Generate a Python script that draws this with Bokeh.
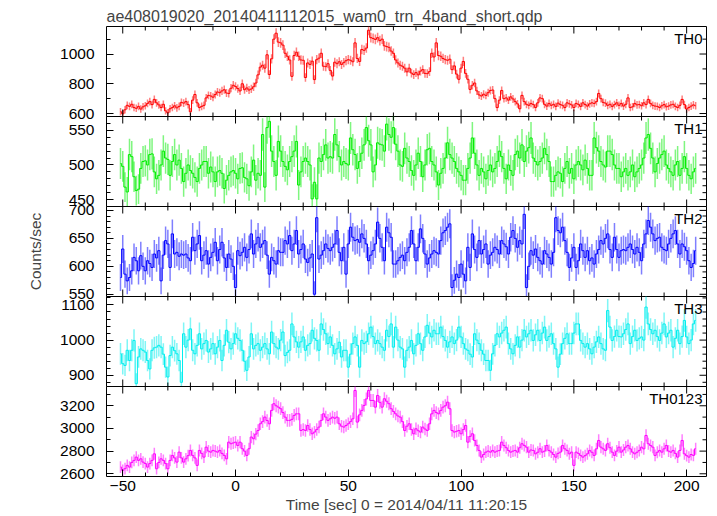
import numpy as np
from bokeh.plotting import figure
from bokeh.layouts import column
from bokeh.models import Range1d, SingleIntervalTicker, Label, ColumnDataSource
from bokeh.embed import file_html
from bokeh.resources import INLINE

TITLE = "ae408019020_20140411112015_wam0_trn_4band_short.qdp"
X_LABEL = "Time [sec] 0 = 2014/04/11 11:20:15"
Y_LABEL = "Counts/sec"
BAND_NAMES = ["TH0", "TH1", "TH2", "TH3", "TH0123"]
T_FIRST = -51      # centre of the first 1-s bin
BIN_SEC = 1.0

TH0 = [612, 598, 625, 655, 648, 662, 640, 635, 648, 630, 645, 652, 668, 680, 660, 695,
       672, 658, 640, 662, 618, 605, 632, 640, 652, 638, 648, 675, 670, 680, 660, 612,
       690, 728, 672, 640, 648, 655, 705, 722, 718, 710, 728, 745, 740, 752, 760, 738,
       735, 770, 790, 782, 768, 752, 800, 760, 772, 758, 765, 780, 805, 860, 912, 925,
       905, 995, 862, 968, 1100, 1140, 1080, 1075, 1060, 1005, 985, 960, 850, 990, 1012, 985,
       960, 958, 842, 940, 930, 952, 828, 962, 972, 1005, 918, 915, 935, 890, 852, 945,
       935, 948, 930, 942, 955, 962, 958, 948, 1075, 970, 950, 1030, 1025, 1040, 1160, 1110,
       1105, 1098, 1110, 1090, 1100, 1055, 1050, 1045, 1020, 1005, 960, 940, 925, 918, 905, 880,
       905, 872, 862, 875, 860, 885, 895, 870, 868, 882, 1005, 980, 1075, 990, 985, 970,
       962, 958, 965, 895, 920, 865, 830, 905, 950, 870, 830, 762, 790, 805, 752, 725,
       718, 730, 722, 740, 755, 758, 700, 640, 690, 755, 700, 705, 690, 712, 698, 680,
       665, 632, 722, 680, 662, 655, 668, 660, 640, 672, 705, 700, 662, 650, 668, 655,
       662, 648, 670, 660, 655, 640, 672, 665, 658, 640, 668, 662, 648, 672, 660, 650,
       665, 672, 668, 680, 735, 700, 675, 670, 655, 662, 648, 660, 672, 655, 668, 650,
       662, 705, 640, 645, 668, 658, 660, 652, 672, 660, 695, 668, 655, 650, 648, 640,
       652, 660, 645, 650, 658, 662, 648, 640, 655, 695, 660, 630, 640, 650, 658, 652]

TH1 = [502, 498, 468, 461, 515, 512, 483, 463, 465, 495, 505, 506, 500, 515, 516, 490,
       480, 485, 500, 520, 510, 508, 485, 505, 515, 500, 507, 495, 476, 488, 500, 492,
       488, 482, 476, 495, 500, 505, 505, 488, 497, 490, 476, 490, 492, 488, 466, 478,
       485, 490, 492, 488, 480, 495, 496, 482, 480, 470, 490, 507, 478, 488, 485, 544,
       468, 554, 563, 520, 505, 485, 534, 520, 505, 498, 493, 505, 512, 520, 534, 471,
       490, 505, 510, 505, 500, 451, 475, 451, 510, 505, 515, 529, 510, 512, 510, 544,
       529, 512, 500, 505, 502, 500, 539, 522, 515, 495, 505, 517, 529, 554, 535, 529,
       490, 500, 532, 530, 529, 520, 559, 544, 540, 554, 530, 520, 500, 498, 524, 510,
       505, 492, 485, 500, 517, 505, 483, 500, 522, 524, 505, 500, 490, 471, 488, 495,
       510, 532, 515, 510, 505, 495, 490, 485, 478, 478, 495, 510, 539, 517, 500, 485,
       495, 490, 480, 492, 500, 490, 495, 505, 520, 512, 495, 480, 500, 492, 485, 515,
       520, 510, 529, 505, 520, 525, 539, 510, 505, 500, 505, 510, 524, 515, 505, 476,
       476, 485, 490, 488, 476, 495, 505, 488, 495, 480, 500, 505, 500, 493, 507, 495,
       485, 485, 539, 525, 520, 505, 500, 497, 520, 520, 515, 500, 495, 495, 483, 490,
       495, 485, 490, 500, 483, 490, 495, 500, 510, 539, 544, 524, 510, 490, 502, 510,
       515, 520, 500, 495, 490, 485, 500, 505, 485, 495, 512, 495, 485, 480, 490, 495]

TH2 = [580, 631, 586, 574, 580, 592, 616, 610, 592, 619, 600, 592, 610, 605, 598, 622,
       615, 628, 574, 620, 646, 640, 598, 658, 622, 625, 618, 622, 620, 622, 615, 610,
       652, 628, 640, 655, 610, 620, 628, 604, 616, 625, 643, 610, 630, 643, 615, 598,
       622, 613, 600, 562, 628, 619, 625, 634, 616, 630, 658, 622, 640, 652, 634, 640,
       646, 620, 586, 616, 610, 604, 628, 625, 625, 646, 640, 655, 628, 640, 664, 622,
       630, 640, 613, 607, 615, 622, 550, 687, 613, 620, 628, 640, 632, 628, 634, 640,
       664, 625, 610, 634, 586, 640, 670, 652, 646, 648, 643, 658, 650, 640, 610, 620,
       628, 640, 679, 650, 634, 610, 670, 660, 652, 604, 604, 610, 616, 620, 610, 625,
       634, 664, 640, 610, 634, 667, 650, 622, 604, 615, 622, 628, 625, 622, 646, 660,
       664, 670, 676, 562, 575, 586, 580, 604, 586, 574, 634, 598, 658, 630, 616, 646,
       622, 630, 640, 604, 620, 625, 634, 630, 622, 646, 640, 635, 622, 652, 664, 650,
       634, 646, 640, 693, 562, 600, 628, 620, 631, 616, 610, 604, 628, 622, 616, 604,
       625, 687, 664, 660, 670, 646, 625, 598, 615, 634, 598, 610, 640, 628, 616, 628,
       610, 615, 604, 622, 630, 646, 640, 650, 658, 630, 616, 652, 630, 616, 628, 630,
       628, 634, 640, 630, 622, 634, 625, 610, 640, 658, 682, 670, 658, 646, 650, 652,
       634, 630, 628, 640, 650, 658, 664, 640, 622, 640, 635, 628, 610, 598, 605, 628]

TH3 = [961, 933, 928, 971, 942, 971, 999, 876, 952, 975, 971, 966, 942, 918, 971, 978,
       980, 985, 980, 960, 923, 895, 956, 980, 970, 961, 942, 880, 1018, 980, 1000, 1032,
       971, 961, 985, 1018, 975, 990, 999, 966, 975, 990, 961, 980, 999, 942, 985, 1028,
       994, 975, 990, 1018, 1005, 999, 971, 940, 914, 952, 1018, 975, 985, 990, 971, 980,
       990, 975, 961, 1023, 990, 980, 975, 1000, 1023, 956, 965, 971, 1046, 1009, 995, 980,
       995, 1009, 971, 985, 990, 1028, 1005, 999, 971, 1046, 1030, 1018, 990, 1009, 985, 961,
       975, 994, 952, 971, 971, 923, 960, 990, 1009, 985, 923, 999, 990, 995, 1018, 1037,
       1010, 990, 999, 990, 980, 971, 1028, 1010, 1046, 980, 1037, 1000, 980, 975, 923, 971,
       980, 999, 961, 985, 1018, 990, 971, 1009, 1042, 1020, 1009, 1028, 1018, 1018, 1037, 1010,
       999, 980, 995, 1009, 990, 1000, 1037, 1009, 990, 975, 971, 960, 952, 1018, 1000, 990,
       971, 960, 942, 942, 914, 961, 985, 1018, 1009, 1020, 1028, 1037, 990, 975, 961, 985,
       1009, 980, 1000, 1028, 1009, 1018, 1028, 999, 1015, 1028, 999, 1020, 1037, 999, 1010, 1018,
       990, 975, 923, 960, 990, 1005, 1018, 990, 990, 1020, 1046, 1046, 999, 990, 980, 990,
       975, 961, 980, 995, 1009, 990, 975, 971, 1084, 1037, 999, 1010, 1028, 1010, 1009, 1018,
       1030, 1046, 990, 1010, 1028, 999, 1005, 1009, 1000, 1094, 1046, 1030, 1018, 1028, 1010, 999,
       1020, 1046, 1009, 1020, 1028, 980, 1005, 1028, 990, 1010, 1056, 1009, 990, 1000, 1046, 1056]

TH0123 = [2659, 2630, 2645, 2674, 2659, 2700, 2718, 2747, 2718, 2732, 2703, 2690, 2659, 2690, 2718, 2776,
          2644, 2700, 2732, 2718, 2690, 2644, 2718, 2762, 2740, 2703, 2791, 2740, 2703, 2732, 2760, 2806,
          2762, 2740, 2674, 2806, 2780, 2747, 2835, 2800, 2791, 2806, 2800, 2791, 2806, 2780, 2762, 2732,
          2879, 2865, 2872, 2879, 2850, 2879, 2821, 2800, 2762, 2821, 2924, 2909, 2950, 2982, 3041, 3060,
          3100, 3070, 3041, 3159, 3218, 3200, 3188, 3174, 3140, 3100, 3071, 3071, 3080, 3115, 3129, 3129,
          2982, 2990, 2982, 3026, 2990, 2953, 2968, 2990, 3012, 3071, 3129, 3100, 3071, 3085, 3100, 3090,
          3100, 3041, 3020, 3012, 3026, 3041, 3060, 3085, 3335, 3056, 3120, 3159, 3203, 3260, 3335, 3247,
          3247, 3188, 3291, 3230, 3188, 3262, 3240, 3218, 3174, 3150, 3129, 3110, 3100, 3060, 2982, 3020,
          3041, 2990, 2953, 2997, 2980, 2968, 3012, 2995, 2982, 3041, 3129, 3159, 3140, 3129, 3159, 3188,
          3200, 3232, 3174, 2982, 2968, 2975, 2982, 2953, 2990, 3026, 2879, 2930, 2953, 2894, 2850, 2806,
          2747, 2770, 2791, 2800, 2791, 2806, 2791, 2800, 2806, 2879, 2850, 2830, 2806, 2791, 2800, 2806,
          2791, 2830, 2865, 2850, 2835, 2791, 2810, 2806, 2776, 2790, 2821, 2791, 2800, 2850, 2806, 2791,
          2770, 2747, 2780, 2791, 2850, 2820, 2806, 2776, 2791, 2674, 2791, 2780, 2762, 2747, 2760, 2776,
          2806, 2790, 2762, 2820, 2894, 2835, 2820, 2806, 2865, 2830, 2791, 2762, 2800, 2835, 2791, 2810,
          2835, 2850, 2820, 2791, 2776, 2790, 2806, 2835, 2820, 2938, 2865, 2850, 2835, 2762, 2790, 2806,
          2791, 2820, 2850, 2800, 2791, 2806, 2780, 2747, 2806, 2894, 2776, 2760, 2747, 2770, 2762, 2821]

SERIES = [TH0, TH1, TH2, TH3, TH0123]

# ---- styling / layout -------------------------------------------------
FONT = "Liberation Sans"
FS_TITLE = "16px"
FS = "15.5px"
FS_BAND = "15px"
COLORS = ["#ff0000", "#00ee00", "#0000ff", "#00eeee", "#ff00ff"]
Y_RANGES = [(580, 1185), (440, 570), (546, 707), (868, 1124), (2576, 3370)]
Y_TICKS = [(200, 2), (50, 5), (50, 5), (100, 5), (200, 2)]
X_RANGE = (-57.2, 208.8)
X_MAJOR, X_MINOR_N = 50, 5
FRAME_H = [90, 90, 90, 90, 90]
TOP_H = 26
BOTTOM_H = 46
PAD = 10          # spare border so edge tick labels are not clipped
LEFT = 106
FRAME_W = 600
WIDTH = 708
TICK_MAJ = 7
TICK_MIN = 4

xr = Range1d(*X_RANGE)


def tick_positions(lo, hi, step):
    start = np.ceil(lo / step) * step
    return np.arange(start, hi + 1e-9, step)


def major_minor(lo, hi, interval, nminor):
    maj = tick_positions(lo, hi, interval)
    mstep = interval / nminor
    allm = tick_positions(lo, hi, mstep)
    minr = np.array([m for m in allm if abs(m / interval - round(m / interval)) > 1e-6])
    return maj, minr


def style_axis(ax, interval, nminor):
    ax.ticker = SingleIntervalTicker(interval=interval, num_minor_ticks=nminor)
    ax.axis_line_color = None
    ax.major_tick_in = TICK_MAJ
    ax.major_tick_out = 0
    ax.minor_tick_in = TICK_MIN
    ax.minor_tick_out = 0
    ax.major_tick_line_color = "black"
    ax.minor_tick_line_color = "black"
    ax.major_label_text_font = FONT
    ax.major_label_text_font_size = FS
    ax.major_label_text_color = "black"


xmaj, xmin = major_minor(X_RANGE[0], X_RANGE[1], X_MAJOR, X_MINOR_N)

figs = []
n_panels = len(SERIES)
for i, (name, vals, col) in enumerate(zip(BAND_NAMES, SERIES, COLORS)):
    vals = np.asarray(vals, dtype=float)
    t = T_FIRST + BIN_SEC * np.arange(len(vals))
    err = np.sqrt(vals * BIN_SEC) / BIN_SEC
    src = ColumnDataSource(dict(t=t, v=vals, lo=vals - err, hi=vals + err))

    first = i == 0
    last = i == n_panels - 1
    top_b = TOP_H if first else PAD
    bot_b = BOTTOM_H if last else PAD
    h = FRAME_H[i] + top_b + bot_b
    ylo, yhi = Y_RANGES[i]
    p = figure(width=WIDTH, height=h, x_range=xr, y_range=Range1d(ylo, yhi),
               output_backend="svg", toolbar_location=None,
               x_axis_location="below" if last else None,
               min_border_left=LEFT, min_border_right=WIDTH - LEFT - FRAME_W,
               min_border_top=top_b, min_border_bottom=bot_b)
    if not first:
        p.margin = (-2 * PAD, 0, 0, 0)
    p.xgrid.visible = False
    p.ygrid.visible = False
    p.outline_line_color = "black"
    p.outline_line_width = 1
    p.background_fill_color = "white"
    p.border_fill_color = None

    p.segment(x0="t", y0="lo", x1="t", y1="hi", source=src,
              line_color=col, line_alpha=0.5, line_width=1.5)
    p.step(x="t", y="v", source=src, mode="center", line_color=col, line_width=1)

    # inward ticks along the top, right (and bottom for inner panels)
    yint, ynm = Y_TICKS[i]
    ymaj, ymin = major_minor(ylo, yhi, yint, ynm)
    for xs, L in ((xmaj, TICK_MAJ), (xmin, TICK_MIN)):
        p.ray(x=xs, y=[yhi] * len(xs), length=L, length_units="screen",
              angle=-np.pi / 2, line_color="black", line_width=1)
        if not last:
            p.ray(x=xs, y=[ylo] * len(xs), length=L, length_units="screen",
                  angle=np.pi / 2, line_color="black", line_width=1)
    for ys, L in ((ymaj, TICK_MAJ), (ymin, TICK_MIN)):
        p.ray(x=[X_RANGE[1]] * len(ys), y=ys, length=L, length_units="screen",
              angle=np.pi, line_color="black", line_width=1)

    left_ax = p.left[0]
    style_axis(left_ax, yint, ynm)
    left_ax.major_label_standoff = 12
    if last:
        bottom_ax = p.below[0]
        style_axis(bottom_ax, X_MAJOR, X_MINOR_N)
        bottom_ax.major_label_standoff = 4
        bottom_ax.major_label_overrides = {-50: "\u221250"}
        bottom_ax.axis_label = X_LABEL
        bottom_ax.axis_label_text_font = FONT
        bottom_ax.axis_label_text_font_size = FS
        bottom_ax.axis_label_text_font_style = "normal"
        bottom_ax.axis_label_standoff = 2

    if i == 2:
        left_ax.axis_label = Y_LABEL
        left_ax.axis_label_text_font = FONT
        left_ax.axis_label_text_font_size = FS
        left_ax.axis_label_text_font_style = "normal"
        left_ax.axis_label_standoff = 22

    p.add_layout(Label(x=X_RANGE[1], y=yhi, text=name,
                       text_align="right", text_baseline="top",
                       x_offset=-4, y_offset=-3,
                       text_font=FONT, text_font_size=FS_BAND, text_color="black"))

    if first:
        p.title.text = TITLE
        p.title.text_font = FONT
        p.title.text_font_size = FS_TITLE
        p.title.text_font_style = "normal"
        p.title.align = "left"
        p.title.standoff = 3
        p.title.offset = 0

    figs.append(p)

layout = column(*figs, spacing=0)
open("out.html", "w").write(file_html(layout, INLINE, title="WAM light curve"))
